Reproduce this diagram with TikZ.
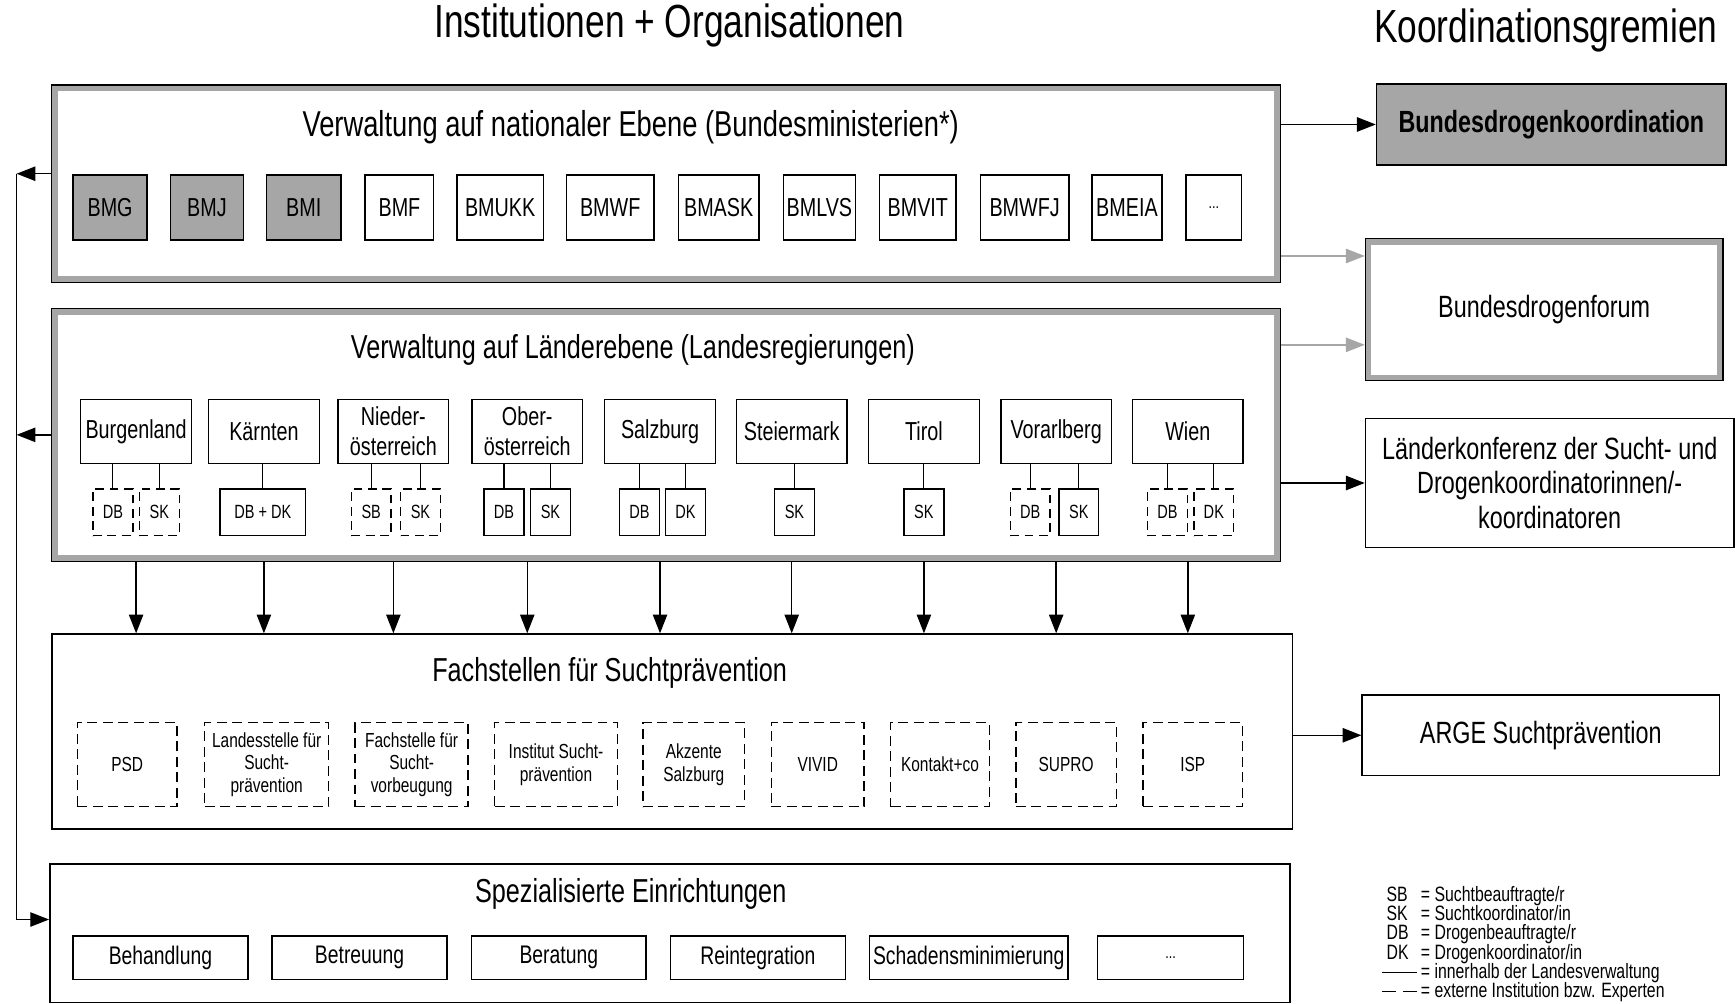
\documentclass[tikz,border=0pt]{standalone}
\usepackage{fontspec}
\setmainfont{Liberation Sans}[FakeStretch=0.76]
\usepackage{tikz}
\usetikzlibrary{arrows.meta, positioning}
\definecolor{boxgray}{RGB}{166,166,166}
\newcommand{\keyfont}{\fontsize{18.8}{17.4}\selectfont\lineskiplimit=-50pt\relax}
\tikzset{
    unit/.style={rectangle, draw=black, line width=1.3pt, text centered, align=center, inner sep=0pt, font=\fontsize{23.5}{27}\selectfont},
    ministry/.style={unit, minimum height=59pt},
    ministryhl/.style={ministry, fill=boxgray},
    land/.style={unit, minimum width=100pt, minimum height=58pt},
    officer/.style={unit, minimum width=36pt, minimum height=42pt, font=\fontsize{17.3}{19}\selectfont},
    external/.style={officer, dash pattern=on 8pt off 5pt},
    agency/.style={unit, dash pattern=on 9pt off 5pt, minimum height=76pt, font=\fontsize{18.4}{20.5}\selectfont},
    service/.style={unit, minimum width=158pt, minimum height=39pt, font=\fontsize{23}{26}\selectfont},
    tier/.style={rectangle, draw=black, line width=1.3pt},
    band/.style={draw=boxgray, line width=5pt},
    board/.style={unit, font=\fontsize{27.8}{31.5}\selectfont},
    heading/.style={font=\fontsize{42}{46}\selectfont},
    caption/.style={font=\fontsize{30}{33}\selectfont},
    dots/.style={font=\fontsize{15}{17}\selectfont},
    link/.style={draw, line width=1pt},
    line/.style={draw, -{Triangle[length=17pt, width=13pt]}, line width=1.3pt},
    grayline/.style={line, draw=boxgray, color=boxgray},
    legend/.style={font=\keyfont, inner sep=0pt, align=left}
}
\newcommand{\keyabbr}[1]{\makebox[31pt][l]{#1}}
\newcommand{\keyline}[1]{\hspace*{-4pt}\makebox[35pt][l]{#1}}
\begin{document}
\begin{tikzpicture}[x=1pt, y=-1pt]
    \useasboundingbox (0,0) rectangle (1568,907);

    \node [heading] (inst) at (605,23) {Institutionen + Organisationen};
    \node [heading] (koord) at (1397,28) {Koordinationsgremien};

    % national level
    \node [tier, minimum width=1110pt, minimum height=178pt] (nat) at (602,166) {};
    \draw [band] ([shift={(3.5pt,-3.5pt)}]nat.north west) rectangle ([shift={(-3.5pt,3.5pt)}]nat.south east);
    \node [caption, font=\fontsize{32.5}{36}\selectfont] (nattitle) at (570,115) {Verwaltung auf nationaler Ebene (Bundesministerien*)};
    \node [ministryhl, minimum width=67pt] (bmg) at (99.5,187.5) {BMG};
    \node [ministryhl, minimum width=66pt] (bmj) at (187,187.5) {BMJ};
    \node [ministryhl, minimum width=67pt] (bmi) at (274.5,187.5) {BMI};
    \node [ministry, minimum width=62pt] (bmf) at (361,187.5) {BMF};
    \node [ministry, minimum width=78pt] (bmukk) at (452,187.5) {BMUKK};
    \node [ministry, minimum width=79pt] (bmwf) at (551.5,187.5) {BMWF};
    \node [ministry, minimum width=73pt] (bmask) at (649.5,187.5) {BMASK};
    \node [ministry, minimum width=65pt] (bmlvs) at (740.5,187.5) {BMLVS};
    \node [ministry, minimum width=69pt] (bmvit) at (829.5,187.5) {BMVIT};
    \node [ministry, minimum width=80pt] (bmwfj) at (926,187.5) {BMWFJ};
    \node [ministry, minimum width=63pt] (bmeia) at (1018.5,187.5) {BMEIA};
    \node [ministry, dots, minimum width=50pt] (bmmore) at (1097,187.5) {...};

    % Laender level
    \node [tier, minimum width=1110pt, minimum height=228pt] (land) at (602,393) {};
    \draw [band] ([shift={(3.5pt,-3.5pt)}]land.north west) rectangle ([shift={(-3.5pt,3.5pt)}]land.south east);
    \node [caption] (landtitle) at (572,316) {Verwaltung auf Länderebene (Landesregierungen)};
    \node [land] (bgl) at (123,390) {Burgenland};
    \node [land] (ktn) at (238.5,390) {Kärnten};
    \node [land] (noe) at (355.5,390) {Nieder-\\österreich};
    \node [land] (ooe) at (476.5,390) {Ober-\\österreich};
    \node [land] (sbg) at (596.5,390) {Salzburg};
    \node [land] (stmk) at (715.5,390) {Steiermark};
    \node [land] (tir) at (835,390) {Tirol};
    \node [land] (vbg) at (954.5,390) {Vorarlberg};
    \node [land] (wien) at (1073.5,390) {Wien};

    \node [external] (bgldb) at (102,463) {DB};
    \node [external] (bglsk) at (144,463) {SK};
    \node [officer, minimum width=77pt] (ktndbdk) at (237.5,463) {DB + DK};
    \node [external] (noesb) at (335.5,463) {SB};
    \node [external] (noesk) at (380,463) {SK};
    \node [officer] (ooedb) at (455.5,463) {DB};
    \node [officer] (ooesk) at (497.5,463) {SK};
    \node [officer] (sbgdb) at (578,463) {DB};
    \node [officer] (sbgdk) at (619.5,463) {DK};
    \node [officer] (stmksk) at (718,463) {SK};
    \node [officer] (tirsk) at (835,463) {SK};
    \node [external] (vbgdb) at (931,463) {DB};
    \node [officer] (vbgsk) at (975,463) {SK};
    \node [external] (wiendb) at (1055,463) {DB};
    \node [external] (wiendk) at (1097,463) {DK};

    \draw [link] (bgl.south -| bgldb) -- (bgldb);
    \draw [link] (bgl.south -| bglsk) -- (bglsk);
    \draw [link] (ktn.south -| ktndbdk) -- (ktndbdk);
    \draw [link] (noe.south -| noesb) -- (noesb);
    \draw [link] (noe.south -| noesk) -- (noesk);
    \draw [link] (ooe.south -| ooedb) -- (ooedb);
    \draw [link] (ooe.south -| ooesk) -- (ooesk);
    \draw [link] (sbg.south -| sbgdb) -- (sbgdb);
    \draw [link] (sbg.south -| sbgdk) -- (sbgdk);
    \draw [link] (stmk.south -| stmksk) -- (stmksk);
    \draw [link] (tir.south -| tirsk) -- (tirsk);
    \draw [link] (vbg.south -| vbgdb) -- (vbgdb);
    \draw [link] (vbg.south -| vbgsk) -- (vbgsk);
    \draw [link] (wien.south -| wiendb) -- (wiendb);
    \draw [link] (wien.south -| wiendk) -- (wiendk);

    % Fachstellen
    \node [tier, minimum width=1121pt, minimum height=176pt] (fach) at (607.5,661) {};
    \node [caption] (fachtitle) at (551,608) {Fachstellen für Suchtprävention};
    \node [agency, minimum width=90pt] (psd) at (115,691) {PSD};
    \node [agency, minimum width=112pt] (lsp) at (241,691) {Landesstelle für\\Sucht-\\prävention};
    \node [agency, minimum width=102pt] (fsv) at (372,691) {Fachstelle für\\Sucht-\\vorbeugung};
    \node [agency, minimum width=111pt] (inst2) at (502.5,691) {Institut Sucht-\\prävention};
    \node [agency, minimum width=92pt] (akz) at (627,691) {Akzente\\Salzburg};
    \node [agency, minimum width=84pt] (vivid) at (739,691) {VIVID};
    \node [agency, minimum width=89pt] (kontakt) at (849.5,691) {Kontakt+co};
    \node [agency, minimum width=91pt] (supro) at (963.5,691) {SUPRO};
    \node [agency, minimum width=90pt] (isp) at (1078,691) {ISP};

    % Spezialisierte Einrichtungen
    \node [tier, minimum width=1121pt, minimum height=125pt] (spez) at (605.5,843.5) {};
    \node [caption] (speztitle) at (570,808) {Spezialisierte Einrichtungen};
    \node [service] (behand) at (145,865.5) {Behandlung};
    \node [service] (betreu) at (325,865.5) {Betreuung};
    \node [service] (berat) at (505,865.5) {Beratung};
    \node [service] (reint) at (685,865.5) {Reintegration};
    \node [service, minimum width=179pt] (schaden) at (875.5,865.5) {Schadensminimierung};
    \node [service, dots, minimum width=132pt] (spezmore) at (1058,865.5) {...};

    % Koordinationsgremien
    \node [board, fill=boxgray, minimum width=316pt, minimum height=73pt, font=\bfseries\fontsize{27.7}{31}\selectfont] (bdk) at (1402,112.5) {Bundesdrogenkoordination};
    \node [board, minimum width=323pt, minimum height=128pt] (bdf) at (1395.5,280) {Bundesdrogenforum};
    \draw [band] ([shift={(3.5pt,-3.5pt)}]bdf.north west) rectangle ([shift={(-3.5pt,3.5pt)}]bdf.south east);
    \node [board, minimum width=333pt, minimum height=117pt] (lk) at (1400.5,436.5) {Länderkonferenz der Sucht- und\\Drogenkoordinatorinnen/-\\koordinatoren};
    \node [board, minimum width=323pt, minimum height=73pt] (arge) at (1392.5,664.5) {ARGE Suchtprävention};

    % Paths
    \coordinate (bdfin1) at ([yshift=-16pt]bdf.north west);
    \coordinate (bdfin2) at ([yshift=33pt]bdf.south west);
    \draw [line] (nat.east |- bdk.west) -- (bdk.west);
    \draw [grayline] (bdfin1 -| nat.east) -- (bdfin1);
    \draw [grayline] (bdfin2 -| land.east) -- (bdfin2);
    \draw [line] (lk.west -| land.east) -- (lk.west);
    \draw [line] (arge.west -| fach.east) -- (arge.west);

    \draw [line] (bgl |- land.south) -- (bgl |- fach.north);
    \draw [line] (ktn |- land.south) -- (ktn |- fach.north);
    \draw [line] (noe |- land.south) -- (noe |- fach.north);
    \draw [line] (ooe |- land.south) -- (ooe |- fach.north);
    \draw [line] (sbg |- land.south) -- (sbg |- fach.north);
    \draw [line] (stmk |- land.south) -- (stmk |- fach.north);
    \draw [line] (tir |- land.south) -- (tir |- fach.north);
    \draw [line] (vbg |- land.south) -- (vbg |- fach.north);
    \draw [line] (wien |- land.south) -- (wien |- fach.north);

    \coordinate (railtop) at (15,157);
    \coordinate (railbot) at (15,831);
    \draw [line] (railtop -| nat.west) -- (railtop);
    \draw [line] (land.west) -- (land.west -| railtop);
    \draw [line] (railtop) -- (railbot) -- (railbot -| spez.west);

    % legend
    \node [legend, anchor=base west] (key) at (1253,901.5) {\keyabbr{SB}= Suchtbeauftragte/r\\
        \keyabbr{SK}= Suchtkoordinator/in\\
        \keyabbr{DB}= Drogenbeauftragte/r\\
        \keyabbr{DK}= Drogenkoordinator/in\\
        \keyline{\rule[5pt]{31pt}{1pt}}= innerhalb der Landesverwaltung\\
        \keyline{\rule[5pt]{12pt}{1pt}\hspace{7pt}\rule[5pt]{12pt}{1pt}}= externe Institution bzw. Experten};
\end{tikzpicture}
\end{document}
